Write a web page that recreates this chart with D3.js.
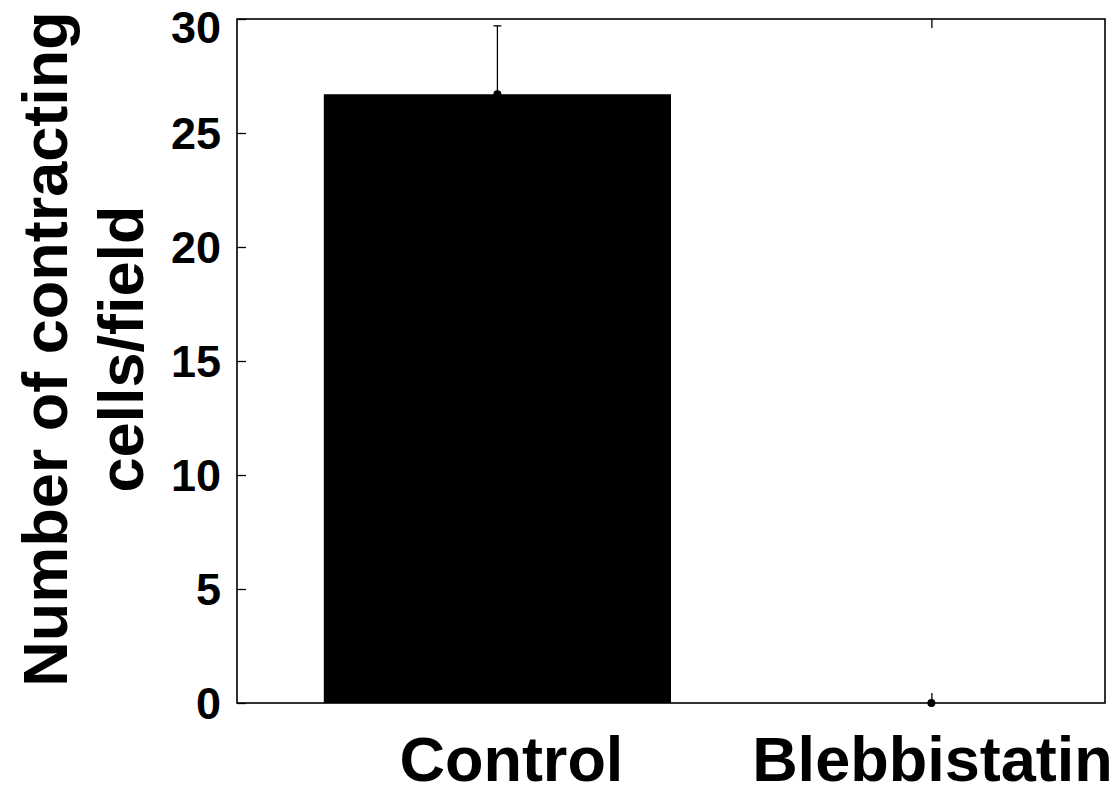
<!DOCTYPE html>
<html>
<head>
<meta charset="utf-8">
<script src="https://cdn.jsdelivr.net/npm/d3@7"></script>
<style>
  html, body { margin: 0; padding: 0; background: #fff; }
  svg text { font-family: "Liberation Sans", Arial, Helvetica, sans-serif; font-weight: bold; fill: #000; }
</style>
</head>
<body>
<svg id="chart" width="1117" height="794"></svg>
<script>
const categories = ["Control", "Blebbistatin"];
const means = [26.7, 0];
const errors = [3.0, 0];
const yTicks = [0, 5, 10, 15, 20, 25, 30];
const yTitleLines = ["Number of contracting", "cells/field"];

const svg = d3.select("#chart");
const plotL = 237, plotR = 1105, plotT = 19, plotB = 703;

const x = d3.scaleLinear().domain([-0.6, 1.4]).range([plotL, plotR]);
const y = d3.scaleLinear().domain([0, 30]).range([plotB, plotT]);
const barW = x(0.8) - x(0);

// bars
svg.selectAll("rect.bar").data(means).enter().append("rect")
  .attr("class", "bar")
  .attr("x", (d, i) => x(i) - barW / 2)
  .attr("y", d => y(d))
  .attr("width", barW)
  .attr("height", d => y(0) - y(d))
  .attr("fill", "#000");

// frame axes
const axL = d3.axisLeft(y).tickValues(yTicks).tickSize(-9).tickFormat("");
svg.append("g").attr("transform", `translate(${plotL},0)`).call(axL)
  .call(g => g.select(".domain").remove())
  .selectAll("line").attr("stroke", "#000").attr("stroke-width", 1.3);

const axT = d3.axisTop(x).tickValues([1]).tickSize(-9).tickFormat("");
svg.append("g").attr("transform", `translate(0,${plotT})`).call(axT)
  .call(g => g.select(".domain").remove())
  .selectAll("line").attr("stroke", "#000").attr("stroke-width", 1.3);

const axB = d3.axisBottom(x).tickValues([1]).tickSize(-10).tickFormat("");
svg.append("g").attr("transform", `translate(0,${plotB})`).call(axB)
  .call(g => g.select(".domain").remove())
  .selectAll("line").attr("stroke", "#000").attr("stroke-width", 1.3);

svg.append("rect")
  .attr("x", plotL).attr("y", plotT)
  .attr("width", plotR - plotL).attr("height", plotB - plotT)
  .attr("fill", "none").attr("stroke", "#000").attr("stroke-width", 1.6);

// error bars
means.forEach((m, i) => {
  if (errors[i] > 0) {
    svg.append("line")
      .attr("x1", x(i)).attr("x2", x(i))
      .attr("y1", y(m)).attr("y2", y(m + errors[i]))
      .attr("stroke", "#000").attr("stroke-width", 1.3);
    svg.append("line")
      .attr("x1", x(i) - 4).attr("x2", x(i) + 4)
      .attr("y1", y(m + errors[i])).attr("y2", y(m + errors[i]))
      .attr("stroke", "#000").attr("stroke-width", 1.3);
  }
});

// mean dots
svg.selectAll("circle.pt").data(means).enter().append("circle")
  .attr("class", "pt")
  .attr("cx", (d, i) => x(i))
  .attr("cy", d => y(d))
  .attr("r", 4)
  .attr("fill", "#000");

// y tick labels
svg.selectAll("text.ytl").data(yTicks).enter().append("text")
  .attr("class", "ytl")
  .attr("x", 221)
  .attr("y", d => Math.max(y(d), 27))
  .attr("dy", "0.36em")
  .attr("text-anchor", "end")
  .style("font-size", "45px")
  .text(d => d);

// x category labels
svg.selectAll("text.xtl").data(categories).enter().append("text")
  .attr("class", "xtl")
  .attr("x", (d, i) => x(i) + (i === 0 ? 14 : 1))
  .attr("y", 781)
  .attr("text-anchor", "middle")
  .style("font-size", "63px")
  .text(d => d);

// y title
const yt = svg.append("text")
  .attr("transform", "translate(0,349) rotate(-90)")
  .attr("text-anchor", "middle")
  .style("font-size", "63px");
yTitleLines.forEach((t, i) => {
  yt.append("tspan").attr("x", 0).attr("y", i === 0 ? 67 : 143).text(t);
});
</script>
</body>
</html>
